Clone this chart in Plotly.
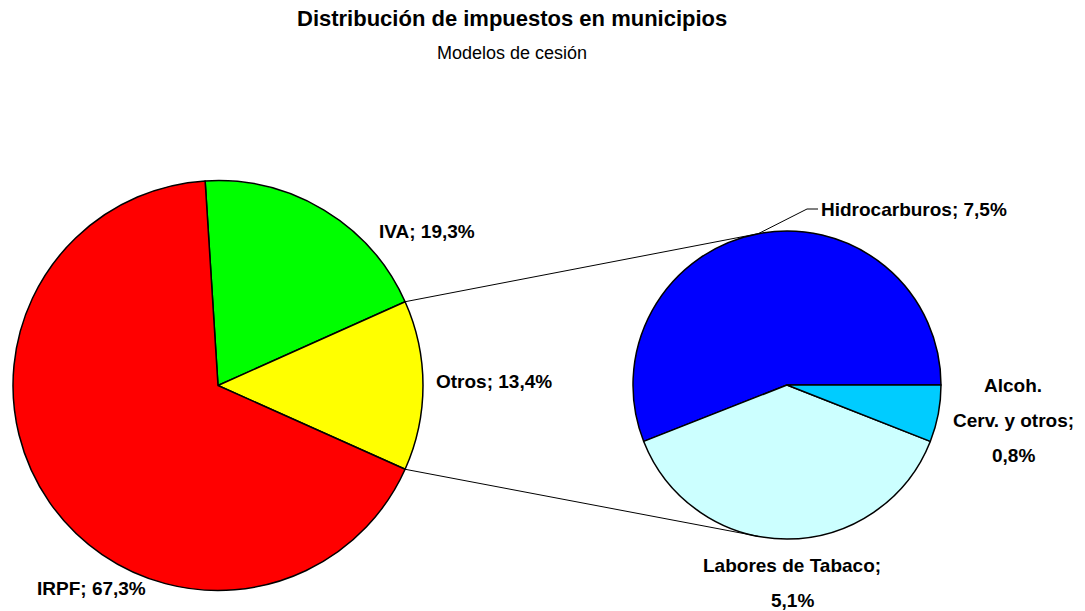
import math
import plotly.graph_objects as go

W, H = 1085, 611

# Main pie: tax shares
main_labels = ["IVA", "Otros", "IRPF"]
main_values = [19.3, 13.4, 67.3]
main_colors = ["#00FF00", "#FFFF00", "#FF0000"]

# Breakdown of "Otros"
sub_labels = ["Hidrocarburos", "Labores de Tabaco", "Alcoh. Cerv. y otros"]
sub_values = [7.5, 5.1, 0.8]
sub_colors = ["#0000FF", "#CCFFFF", "#00CCFF"]

title_text = "Distribución de impuestos en municipios"
subtitle_text = "Modelos de cesión"

FONT = "Liberation Sans, Arial, sans-serif"

# Geometry (pixels, y down)
c1x, c1y, r1 = 218, 385.5, 205
c2x, c2y, r2 = 787, 385, 154


def px(x):
    return x / W


def py(y):
    return 1 - y / H


def fmt(v):
    return f"{v:.1f}".replace(".", ",") + "%"


# "Otros" slice centred on 3 o'clock, main pie runs clockwise
otros_half = main_values[1] / sum(main_values) * 180
start1 = otros_half + main_values[0] / sum(main_values) * 360  # math degrees
rotation1 = 90 - start1

# Secondary pie: first slice starts at 3 o'clock and runs counterclockwise.
# Plotly places the first counterclockwise slice clockwise of `rotation`.
first_span = sub_values[0] / sum(sub_values) * 360
rotation2 = 90 - first_span

fig = go.Figure()
fig.add_trace(go.Pie(
    labels=main_labels, values=main_values, sort=False,
    direction="clockwise", rotation=rotation1,
    marker=dict(colors=main_colors, line=dict(color="black", width=1.5)),
    textinfo="none", hoverinfo="label+percent", showlegend=False,
    domain=dict(x=[px(c1x - r1), px(c1x + r1)], y=[py(c1y + r1), py(c1y - r1)]),
))
fig.add_trace(go.Pie(
    labels=sub_labels, values=sub_values, sort=False,
    direction="counterclockwise", rotation=rotation2,
    marker=dict(colors=sub_colors, line=dict(color="black", width=1.5)),
    textinfo="none", hoverinfo="label+value", showlegend=False,
    domain=dict(x=[px(c2x - r2), px(c2x + r2)], y=[py(c2y + r2), py(c2y - r2)]),
))

shapes = []


def tangent_point(ex, ey, pick):
    dx, dy = ex - c2x, ey - c2y
    d = math.hypot(dx, dy)
    base = math.atan2(dy, dx)
    off = math.acos(r2 / d)
    a = base + off if pick > 0 else base - off
    return c2x + r2 * math.cos(a), c2y + r2 * math.sin(a)


# Connector lines from the "Otros" edges to the secondary pie
for sign in (1, -1):
    a = math.radians(sign * otros_half)
    ex = c1x + r1 * math.cos(a)
    ey = c1y - r1 * math.sin(a)
    tx, ty = tangent_point(ex, ey, sign)
    shapes.append(dict(type="line", xref="paper", yref="paper",
                       x0=px(ex), y0=py(ey), x1=px(tx), y1=py(ty),
                       line=dict(color="black", width=1)))

# Leader line for Hidrocarburos label (slice midpoint -> label)
mid = math.radians(first_span / 2)
mx, my = c2x + r2 * math.cos(mid), c2y - r2 * math.sin(mid)
shapes.append(dict(type="path", xref="paper", yref="paper",
                   path=f"M {px(mx)},{py(my)} L {px(807)},{py(209)} L {px(818)},{py(209)}",
                   line=dict(color="black", width=1)))

ann = []


def label(text, x, y, size=19, bold=True, xanchor="center"):
    ann.append(dict(text=f"<b>{text}</b>" if bold else text, x=px(x), y=py(y),
                    xref="paper", yref="paper", showarrow=False,
                    xanchor=xanchor, yanchor="middle",
                    font=dict(family=FONT, size=size, color="black")))


label(title_text, 512, 19, size=22)
label(subtitle_text, 512, 53, size=18, bold=False)
label(f"{main_labels[0]}; {fmt(main_values[0])}", 377, 232, xanchor="left")
label(f"{main_labels[1]}; {fmt(main_values[1])}", 434, 381, xanchor="left")
label(f"{main_labels[2]}; {fmt(main_values[2])}", 35, 588, xanchor="left")
label(f"{sub_labels[0]}; {fmt(sub_values[0])}", 819, 209, xanchor="left")
label("Alcoh.", 1013, 385)
label("Cerv. y otros;", 1013, 420)
label(fmt(sub_values[2]), 1013, 455)
label("Labores de Tabaco;", 792, 565)
label(fmt(sub_values[1]), 792, 600)

fig.update_layout(
    width=W, height=H, margin=dict(l=0, r=0, t=0, b=0),
    paper_bgcolor="white", plot_bgcolor="white",
    shapes=shapes, annotations=ann, showlegend=False,
)

fig.write_html("out.html")
